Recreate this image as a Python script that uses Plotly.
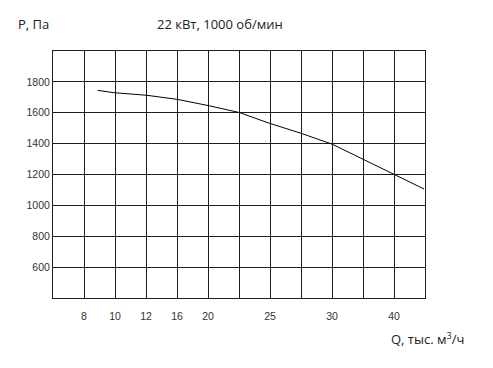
import plotly.graph_objects as go

# x axis is a non-uniform Q scale: one column per grid cell
grid_pos = list(range(13))
x_tick_pos = [1, 2, 3, 4, 5, 7, 9, 11]
x_tick_labels = ["8", "10", "12", "16", "20", "25", "30", "40"]
y_tick_vals = [600, 800, 1000, 1200, 1400, 1600, 1800]

# Curve, x in grid-cell units, P in Pa
curve_x = [1.44, 1.96, 3.03, 4.0, 5.02, 6.02, 6.95, 8.03, 9.01, 10.01, 11.01, 11.97]
curve_p = [1745, 1730, 1713, 1687, 1646, 1601, 1534, 1465, 1396, 1298, 1203, 1106]

fig = go.Figure()
fig.add_trace(go.Scatter(x=curve_x, y=curve_p, mode="lines",
                         line=dict(color="black", width=1), hoverinfo="skip"))

grid_color = "#1e1e1e"
tick_font = dict(family="Liberation Sans, Arial", size=10.5, color="#333")
fig.update_xaxes(range=[0, 12], tickvals=x_tick_pos, ticktext=x_tick_labels,
                 showgrid=True, gridcolor=grid_color, gridwidth=1, automargin=False,
                 minor=dict(tickvals=grid_pos, showgrid=True, gridcolor=grid_color,
                            gridwidth=1, ticks=""),
                 showline=True, linecolor=grid_color, linewidth=1, mirror=True,
                 zeroline=False, ticks="outside", ticklen=8, tickcolor="rgba(0,0,0,0)",
                 tickfont=tick_font)
fig.update_yaxes(range=[400, 2000], tickvals=y_tick_vals,
                 showgrid=True, gridcolor=grid_color, gridwidth=1, automargin=False,
                 showline=True, linecolor=grid_color, linewidth=1, mirror=True,
                 zeroline=False, ticklabelstandoff=0,
                 tickfont=tick_font)

txt_font = dict(family="Open Sans, Noto Sans", size=13, color="#222")
fig.add_annotation(text="P, Па", xref="paper", yref="paper", x=-0.1, y=1.111,
                   xanchor="left", yanchor="middle", showarrow=False, font=txt_font)
fig.add_annotation(text="22 кВт, 1000 об/мин", xref="paper", yref="paper", x=0.448, y=1.111,
                   xanchor="center", yanchor="middle", showarrow=False, font=txt_font)
fig.add_annotation(text="Q, тыс. м<sup>3</sup>/ч", xref="paper", yref="paper", x=0.904, y=-0.165,
                   xanchor="left", yanchor="middle", showarrow=False, font=txt_font)

fig.update_layout(width=485, height=360,
                  margin=dict(l=44.5, r=68, t=42.5, b=69.7, autoexpand=False),
                  paper_bgcolor="white", plot_bgcolor="white", showlegend=False)

fig.write_html("out.html")
